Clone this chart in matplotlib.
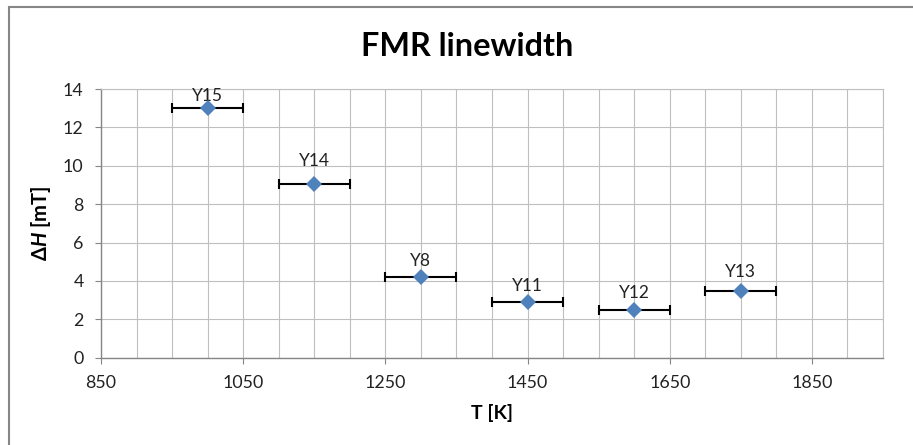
import numpy as np
import matplotlib
matplotlib.use("Agg")
import matplotlib.pyplot as plt
from matplotlib.patches import Rectangle

# data
samples = ["Y15", "Y14", "Y8", "Y11", "Y12", "Y13"]
temp = [1000, 1150, 1300, 1450, 1600, 1750]      # T [K]
linewidth = [13.0, 9.05, 4.2, 2.9, 2.5, 3.45]     # dH [mT]
temp_err = [50, 50, 50, 50, 50, 50]

# label offsets above the markers (points), as placed in the original
label_dy = [3, 11, 6, 6, 6, 8]

plt.rcParams['font.family'] = ['Lato', 'DejaVu Sans']
plt.rcParams['mathtext.fontset'] = 'custom'
plt.rcParams['mathtext.rm'] = 'Lato:bold'
plt.rcParams['mathtext.bf'] = 'Lato:bold'
plt.rcParams['mathtext.it'] = 'Lato:italic:bold'
plt.rcParams['mathtext.fallback'] = 'stixsans'

W, H = 913, 445
fig = plt.figure(figsize=(W/100, H/100), dpi=100)
ax = fig.add_axes([101/W, (H-357.7)/H, 782/W, 268.7/H])

grid_c = '#BFBFBF'
axis_c = '#868686'

# error bars first, then markers on top
ax.errorbar(temp, linewidth, xerr=temp_err, fmt='none', ecolor='black',
            elinewidth=1.5, capsize=3.5, capthick=1.5, zorder=3)
ax.plot(temp, linewidth, 'D', color='#4F81BD', ms=8.5, mew=0, zorder=4)
for s, x, y, dy in zip(samples, temp, linewidth, label_dy):
    ax.annotate(s, (x, y), xytext=(0, dy), textcoords='offset points',
                ha='center', va='bottom', fontsize=12.5, color='#222222')

ax.set_xlim(850, 1950)
ax.set_ylim(0, 14)
ax.set_xticks(np.arange(850, 1851, 200))
ax.set_xticks(np.arange(850, 1951, 50), minor=True)
ax.set_yticks(np.arange(0, 15, 2))
ax.grid(True, which='both', color=grid_c, lw=0.8)
ax.set_axisbelow(True)
ax.tick_params(axis='x', which='minor', length=0)
ax.tick_params(axis='both', which='major', length=4.5, width=0.8,
               color=axis_c, labelsize=12.8, labelcolor='#222222')
ax.tick_params(axis='y', pad=8)
ax.tick_params(axis='x', pad=8)
for side in ['top', 'right']:
    ax.spines[side].set_color(grid_c)
    ax.spines[side].set_linewidth(0.8)
for side in ['left', 'bottom']:
    ax.spines[side].set_color(axis_c)
    ax.spines[side].set_linewidth(1.0)

ax.set_xlabel('T [K]', fontsize=14, fontweight='bold', labelpad=9)
ax.set_ylabel(r'$\Delta\mathit{H}$ [mT]', fontsize=14.5, fontweight='bold',
              labelpad=7)
fig.text(467/W, 1 - 56/H, 'FMR linewidth', ha='center', va='baseline',
         fontsize=23.3, fontweight='bold')

# chart area border (cropped on the right and bottom)
fig.patches.append(Rectangle((9/W, -0.1), 1.2, 1 - 7/H + 0.1,
                             transform=fig.transFigure, fill=False,
                             edgecolor='#868686', lw=1.5))

fig.savefig('out.png', dpi=100)
